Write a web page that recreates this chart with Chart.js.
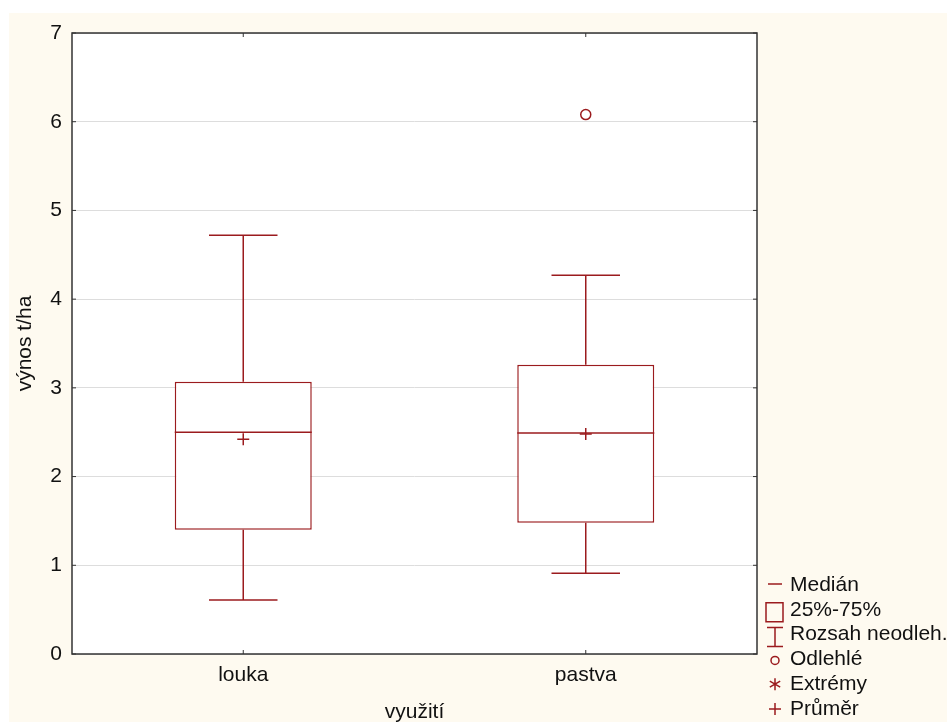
<!DOCTYPE html>
<html>
<head>
<meta charset="utf-8">
<script src="https://cdn.jsdelivr.net/npm/chart.js@4"></script>
<style>
  html, body { margin: 0; padding: 0; background: #fff; }
  #wrap { width: 947px; height: 722px; position: relative; }
</style>
</head>
<body>
<div id="wrap"><canvas id="boxChart"></canvas></div>
<script>
// Values
const categories = ['louka', 'pastva'];
const q1 = [1.40, 1.48];
const q3 = [3.07, 3.26];
const medians = [2.50, 2.49];
const means = [2.42, 2.48];
const whiskerLow = [0.61, 0.91];
const whiskerHigh = [4.72, 4.27];
const outliers = [null, 6.08];
const yTicks = [0, 1, 2, 3, 4, 5, 6, 7];

const legendItems = ['Medián', '25%-75%', 'Rozsah neodleh.', 'Odlehlé', 'Extrémy', 'Průměr'];

const red = '#9b1b1e';
const ink = '#111111';
const cream = '#fefaf0';
const FONT = "'Liberation Sans', Arial, sans-serif";

// Background, frame, whiskers, medians, titles, legend
const boxPlugin = {
  id: 'boxPlugin',
  beforeDraw(chart) {
    const { ctx, chartArea: a } = chart;
    ctx.save();
    ctx.fillStyle = '#fff';
    ctx.fillRect(0, 0, chart.width, chart.height);
    ctx.fillStyle = cream;
    ctx.fillRect(9, 13, chart.width - 9, chart.height - 13);
    ctx.fillStyle = '#fff';
    ctx.fillRect(a.left, a.top, a.right - a.left, a.bottom - a.top);
    ctx.restore();
  },
  afterDatasetsDraw(chart) {
    const { ctx, scales: { x, y } } = chart;
    const meta = chart.getDatasetMeta(0);
    ctx.save();
    ctx.strokeStyle = red;
    ctx.lineWidth = 1.5;
    categories.forEach((c, i) => {
      const bar = meta.data[i];
      const cx = x.getPixelForValue(i);
      const half = bar.width / 2;
      const cap = bar.width / 4;
      const line = (x1, y1, x2, y2) => {
        ctx.beginPath(); ctx.moveTo(x1, y1); ctx.lineTo(x2, y2); ctx.stroke();
      };
      // whiskers
      line(cx, y.getPixelForValue(q3[i]), cx, y.getPixelForValue(whiskerHigh[i]));
      line(cx, y.getPixelForValue(q1[i]), cx, y.getPixelForValue(whiskerLow[i]));
      line(cx - cap, y.getPixelForValue(whiskerHigh[i]), cx + cap, y.getPixelForValue(whiskerHigh[i]));
      line(cx - cap, y.getPixelForValue(whiskerLow[i]), cx + cap, y.getPixelForValue(whiskerLow[i]));
      // median
      line(cx - half, y.getPixelForValue(medians[i]), cx + half, y.getPixelForValue(medians[i]));
    });
    ctx.restore();
  },
  afterDraw(chart) {
    const { ctx, chartArea: a, scales: { x, y } } = chart;
    ctx.save();
    // frame
    ctx.strokeStyle = '#333';
    ctx.lineWidth = 1.5;
    ctx.strokeRect(a.left, a.top, a.right - a.left, a.bottom - a.top);
    // inward ticks
    ctx.lineWidth = 1;
    yTicks.forEach(v => {
      const py = y.getPixelForValue(v);
      ctx.beginPath();
      ctx.moveTo(a.left, py); ctx.lineTo(a.left + 4, py);
      ctx.moveTo(a.right, py); ctx.lineTo(a.right - 4, py);
      ctx.stroke();
    });
    categories.forEach((c, i) => {
      const px = x.getPixelForValue(i);
      ctx.beginPath();
      ctx.moveTo(px, a.top); ctx.lineTo(px, a.top + 4);
      ctx.moveTo(px, a.bottom); ctx.lineTo(px, a.bottom - 4);
      ctx.stroke();
    });

    // axis titles
    ctx.fillStyle = ink;
    ctx.font = '21px ' + FONT;
    ctx.textAlign = 'center';
    ctx.textBaseline = 'middle';
    ctx.fillText('využití', (a.left + a.right) / 2, 712);
    ctx.save();
    ctx.translate(25, (a.top + a.bottom) / 2);
    ctx.rotate(-Math.PI / 2);
    ctx.fillText('výnos t/ha', 0, 0);
    ctx.restore();

    // legend
    const sx = 775, tx = 790;
    ctx.textAlign = 'left';
    legendItems.forEach((label, i) => {
      const ly = 584 + i * 24.8;
      ctx.fillStyle = ink;
      ctx.fillText(label, tx, ly + 1);
      ctx.strokeStyle = red;
      ctx.lineWidth = 1.5;
      ctx.beginPath();
      if (i === 0) {
        ctx.moveTo(sx - 7, ly); ctx.lineTo(sx + 7, ly);
      } else if (i === 1) {
        ctx.rect(sx - 9, ly - 6, 17, 19);
      } else if (i === 2) {
        ctx.moveTo(sx - 8, ly - 6); ctx.lineTo(sx + 8, ly - 6);
        ctx.moveTo(sx, ly - 6); ctx.lineTo(sx, ly + 13);
        ctx.moveTo(sx - 8, ly + 13); ctx.lineTo(sx + 8, ly + 13);
      } else if (i === 3) {
        ctx.arc(sx, ly + 2, 4, 0, Math.PI * 2);
      } else if (i === 4) {
        for (let k = 0; k < 3; k++) {
          const ang = Math.PI / 2 + k * Math.PI / 3;
          ctx.moveTo(sx - 6 * Math.cos(ang), ly + 1 - 6 * Math.sin(ang));
          ctx.lineTo(sx + 6 * Math.cos(ang), ly + 1 + 6 * Math.sin(ang));
        }
      } else {
        ctx.moveTo(sx - 6, ly + 1); ctx.lineTo(sx + 6, ly + 1);
        ctx.moveTo(sx, ly - 5); ctx.lineTo(sx, ly + 7);
      }
      ctx.stroke();
    });
    ctx.restore();
  }
};

new Chart(document.getElementById('boxChart'), {
  type: 'bar',
  data: {
    labels: categories,
    datasets: [
      {
        label: '25%-75%',
        data: categories.map((c, i) => [q1[i], q3[i]]),
        backgroundColor: '#ffffff',
        borderColor: red,
        borderWidth: 1.5,
        borderSkipped: false,
        barPercentage: 0.4,
        categoryPercentage: 1,
        order: 2
      },
      {
        type: 'line',
        label: 'Průměr',
        data: means,
        showLine: false,
        pointStyle: 'cross',
        pointRadius: 6,
        pointBorderColor: red,
        pointBorderWidth: 1.5,
        order: 1
      },
      {
        type: 'line',
        label: 'Odlehlé',
        data: outliers,
        showLine: false,
        pointStyle: 'circle',
        pointRadius: 5,
        pointBackgroundColor: '#ffffff',
        pointBorderColor: red,
        pointBorderWidth: 1.5,
        order: 1
      }
    ]
  },
  options: {
    responsive: true,
    maintainAspectRatio: false,
    animation: false,
    layout: { padding: { top: 33, right: 190, left: 0, bottom: 0 } },
    plugins: { legend: { display: false }, tooltip: { enabled: false } },
    scales: {
      x: {
        grid: { display: false, drawTicks: false },
        border: { display: false },
        ticks: { color: ink, font: { family: FONT, size: 21 }, padding: 9 },
        afterFit: s => { s.height = 68; }
      },
      y: {
        min: 0,
        max: 7,
        grid: { color: '#dddddd', drawTicks: false, lineWidth: 1 },
        border: { display: false },
        ticks: {
          stepSize: 1,
          color: ink,
          font: { family: FONT, size: 21 },
          padding: 10,
          callback: v => yTicks.includes(v) ? v : ''
        },
        afterFit: s => { s.width = 72; }
      }
    }
  },
  plugins: [boxPlugin]
});
</script>
</body>
</html>
